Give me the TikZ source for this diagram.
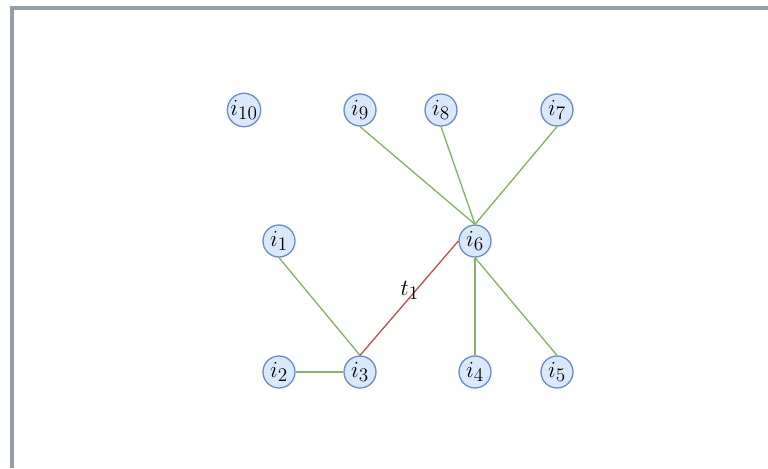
\documentclass[tikz,border=0pt]{standalone}
\usepackage{amsmath}
\usepackage{tikz}
\usetikzlibrary{arrows.meta}

\definecolor{nodefill}{HTML}{DAE8FC}
\definecolor{nodeline}{HTML}{6C8EBF}
\definecolor{edgegreen}{HTML}{82B366}
\definecolor{edgered}{HTML}{B85450}
\definecolor{framegray}{HTML}{959DA5}

\tikzset{
    item/.style={circle, draw=nodeline, fill=nodefill, line width=1pt,
        minimum size=24pt, inner sep=0pt, font=\fontsize{19}{22}\selectfont},
    link/.style={draw=edgegreen, line width=1pt},
    trade/.style={draw=edgered, line width=1pt}
}

\begin{document}
\begin{tikzpicture}[x=0.75pt, y=-0.75pt]

\useasboundingbox (0,0) rectangle (768,468);

% Frame on top and left
\draw[framegray, line width=3pt] (12,468) -- (12,8) -- (768,8);

% Top row
\node[item] (i10) at (244,110) {$i_{10}$};
\node[item] (i9) at (360,110) {$i_9$};
\node[item] (i8) at (441,110) {$i_8$};
\node[item] (i7) at (557,110) {$i_7$};

% Middle row
\node[item] (i1) at (279,241) {$i_1$};
\node[item] (i6) at (475,241) {$i_6$};

% Bottom row
\node[item] (i2) at (279,372) {$i_2$};
\node[item] (i3) at (360,372) {$i_3$};
\node[item] (i4) at (475,372) {$i_4$};
\node[item] (i5) at (557,372) {$i_5$};

% Green links
\draw[link] (i1.south) -- (i3.north);
\draw[link] (i2.east) -- (i3.west);
\draw[link] (i9.south) -- (i6.north);
\draw[link] (i8.south) -- (i6.north);
\draw[link] (i7.south) -- (i6.north);
\draw[link] (i6.south) -- (i4.north);
\draw[link] (i6.south) -- (i5.north);

% Red link with its label
\draw[trade] (i3.north) -- node[pos=0.57, left=-6pt, font=\fontsize{19}{22}\selectfont] (t1) {$t_1$} (i6.west);

\end{tikzpicture}
\end{document}
